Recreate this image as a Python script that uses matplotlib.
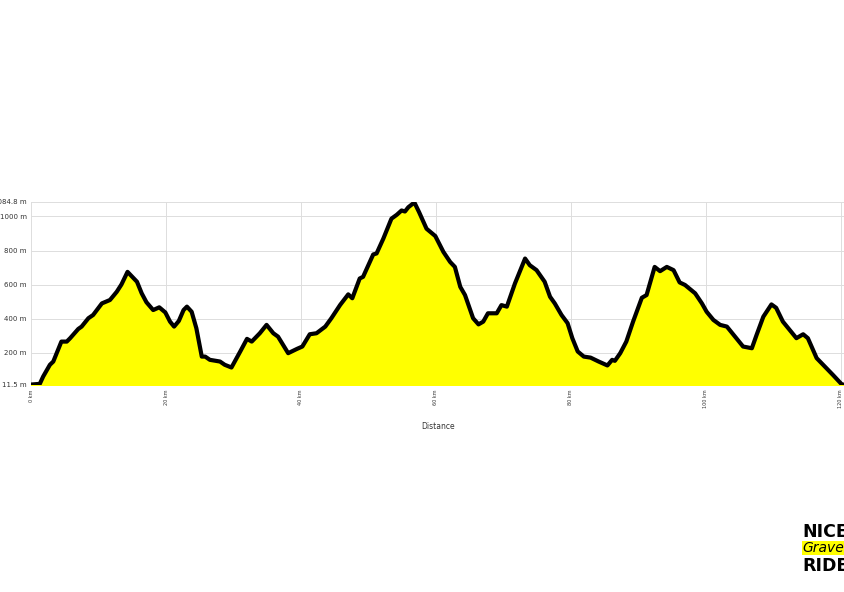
import matplotlib.pyplot as plt

# Профіль висоти: відстань (км) і висота (м)
distance_km = [0.0, 1.3, 1.8, 2.8, 3.3, 4.5, 5.3, 5.8, 7.0, 7.5, 8.5, 9.2, 10.5, 11.7,
               12.7, 13.4, 14.3, 14.9, 15.7, 16.4, 17.1, 18.1, 19.0, 19.9, 20.6, 21.2,
               21.9, 22.6, 23.1, 23.8, 24.5, 25.3, 25.8, 26.5, 28.0, 28.7, 29.7, 31.0,
               32.0, 32.7, 33.9, 34.9, 35.9, 36.6, 38.1, 39.4, 40.2, 41.3, 42.3, 43.6,
               44.5, 45.8, 47.0, 47.6, 48.7, 49.2, 50.7, 51.2, 52.2, 53.4, 54.2, 54.9,
               55.4, 55.9, 56.8, 57.5, 58.6, 59.9, 61.1, 62.1, 62.8, 63.6, 64.3, 65.5,
               66.3, 67.0, 67.7, 69.0, 69.7, 70.5, 71.7, 73.2, 73.9, 74.9, 76.1, 76.9,
               77.6, 78.6, 79.5, 80.2, 81.0, 81.9, 82.9, 84.1, 85.4, 86.1, 86.5, 87.3,
               88.2, 89.2, 90.5, 91.2, 92.4, 93.2, 94.2, 95.2, 96.1, 96.9, 98.4, 99.4,
               100.1, 101.1, 102.1, 103.1, 104.3, 105.5, 106.8, 107.5, 108.5, 109.7,
               110.4, 111.4, 112.4, 113.4, 114.4, 115.1, 116.4, 117.6, 118.8, 120.1, 120.6]
elevation_m = [14, 18, 61, 130, 149, 266, 266, 286, 340, 354, 403, 422, 490, 510,
               558, 601, 675, 650, 617, 549, 497, 451, 467, 437, 383, 354,
               387, 451, 471, 441, 344, 178, 178, 159, 149, 130, 114, 208,
               282, 266, 315, 364, 315, 295, 198, 223, 237, 309, 315, 354,
               403, 481, 543, 520, 636, 646, 777, 783, 870, 987, 1010, 1035,
               1029, 1054, 1082, 1025, 928, 885, 792, 733, 704, 587, 539, 403,
               367, 383, 432, 432, 480, 471, 607, 753, 714, 685, 617, 529,
               490, 422, 374, 286, 208, 178, 172, 149, 126, 159, 153, 198,
               266, 383, 523, 539, 704, 679, 704, 685, 613, 598, 549, 490,
               441, 393, 364, 354, 295, 237, 227, 305, 412, 484,
               464, 383, 334, 286, 309, 286, 169, 120, 71, 16, 11.5]

y_ticks = [11.5, 200, 400, 600, 800, 1000, 1084.8]
y_labels = ["11.5 m", "200 m", "400 m", "600 m", "800 m", "1000 m", "1084.8 m"]
x_ticks = [0, 20, 40, 60, 80, 100, 120]
x_labels = [f"{t} km" for t in x_ticks]

fig = plt.figure(figsize=(8.45, 5.92), dpi=100)
ax = fig.add_axes([0.0367, 0.3497, 0.9633, 0.3091])

ax.fill_between(distance_km, 11.5, elevation_m, color='#ffff00', zorder=2)
ax.plot(distance_km, elevation_m, color='black', linewidth=3.0,
        solid_joinstyle='round', solid_capstyle='round', zorder=3)

ax.set_xlim(0, 120.6)
ax.set_ylim(11.5, 1084.8)
ax.set_yticks(y_ticks)
ax.set_yticklabels(y_labels, fontsize=5, color='#333333')
ax.set_xticks(x_ticks)
ax.set_xticklabels(x_labels, fontsize=3.5, rotation=90, color='#333333')
ax.tick_params(length=0, pad=3)
ax.set_xlabel('Distance', fontsize=5.5, color='#333333', labelpad=10)
ax.grid(True, color='#dddddd', linewidth=0.7, zorder=0)
for s in ax.spines.values():
    s.set_visible(False)

# Логотип
fig.text(0.949, 0.101, 'NICE', fontsize=12.5, fontweight='bold', color='black',
         ha='left', va='center')
fig.text(0.949, 0.074, 'Gravel', fontsize=10, fontstyle='italic', color='black',
         ha='left', va='center',
         bbox=dict(facecolor='#ffff00', edgecolor='none', pad=0.2))
fig.text(0.949, 0.044, 'RIDE', fontsize=12.5, fontweight='bold', color='black',
         ha='left', va='center')

fig.savefig('out.png', dpi=100, facecolor='white')
